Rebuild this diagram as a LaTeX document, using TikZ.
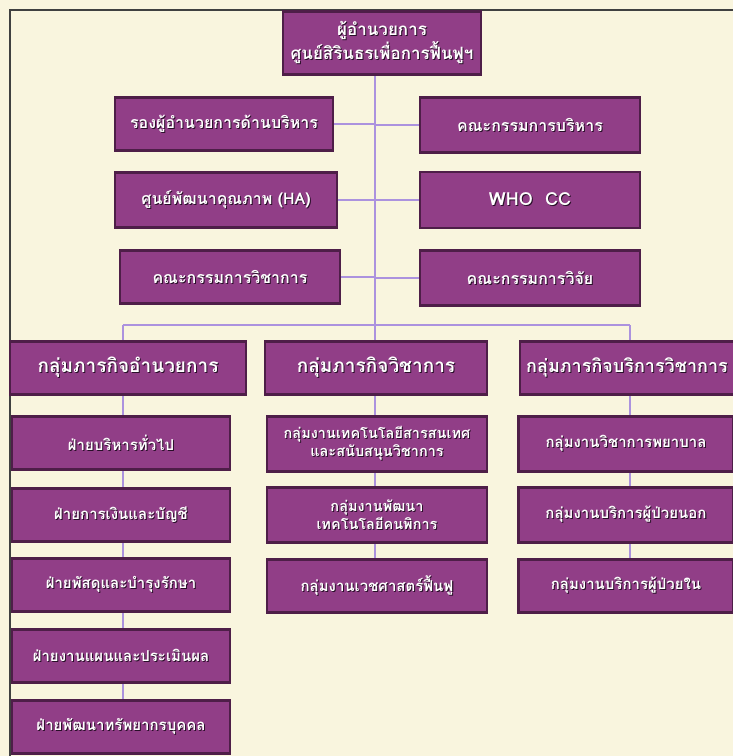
\documentclass[tikz,border=0pt]{standalone}
\usepackage{fontspec}
\newfontfamily\thai[Script=Thai]{Loma}
\setmainfont{Liberation Sans}
\usetikzlibrary{backgrounds}
\definecolor{bg}{RGB}{249,245,222}
\definecolor{boxfill}{RGB}{145,62,135}
\definecolor{boxedge}{RGB}{78,30,72}
\definecolor{wire}{RGB}{172,146,222}
\definecolor{shadowc}{RGB}{40,15,40}
\newcommand\sht[1]{\leavevmode\rlap{\kern1pt\raisebox{-1pt}{\textcolor{shadowc}{#1}}}#1}
\tikzset{
  orgbox/.style={draw=boxedge, line width=2.2pt, fill=boxfill, text=white,
    font=\thai\bfseries\fontsize{16}{19}\selectfont, align=center, inner sep=1pt},
  grpbox/.style={orgbox, font=\thai\bfseries\fontsize{19}{22}\selectfont},
  itembox/.style={orgbox, font=\thai\bfseries\fontsize{15}{18}\selectfont},
  wireline/.style={draw=wire, line width=1.6pt}
}
\begin{document}
\begin{tikzpicture}[x=1pt,y=-1pt]
\useasboundingbox (0,0) rectangle (733,756);

% top
\node[orgbox, minimum width=198pt, minimum height=63pt, font=\thai\bfseries\fontsize{17}{21}\selectfont] (top) at (382,43) {\sht{ผู้อำนวยการ}\\\sht{ศูนย์สิรินธรเพื่อการฟื้นฟูฯ}};

% advisory
\node[orgbox, minimum width=218pt, minimum height=53pt] (a1) at (224,124) {\sht{รองผู้อำนวยการด้านบริหาร}};
\node[orgbox, minimum width=220pt, minimum height=55pt] (b1) at (530,125) {\sht{คณะกรรมการบริหาร}};
\node[orgbox, minimum width=222pt, minimum height=55pt] (a2) at (226,200) {\sht{ศูนย์พัฒนาคุณภาพ (HA)}};
\node[orgbox, minimum width=220pt, minimum height=56pt, font=\thai\bfseries\fontsize{18}{21}\selectfont] (b2) at (530,200) {\sht{WHO\ \ CC}};
\node[orgbox, minimum width=220pt, minimum height=53pt] (a3) at (230,277) {\sht{คณะกรรมการวิชาการ}};
\node[orgbox, minimum width=220pt, minimum height=55pt] (b3) at (530,278) {\sht{คณะกรรมการวิจัย}};

% groups
\node[grpbox, minimum width=236pt, minimum height=53pt] (gL) at (128,368) {\sht{กลุ่มภารกิจอำนวยการ}};
\node[grpbox, minimum width=222pt, minimum height=53pt] (gM) at (376,368) {\sht{กลุ่มภารกิจวิชาการ}};
\node[grpbox, minimum width=214pt, minimum height=53pt, inner sep=0pt, font=\thai\bfseries\fontsize{18}{22}\selectfont] (gR) at (627,368) {\sht{กลุ่มภารกิจบริการวิชาการ}};

% left column
\node[itembox, minimum width=218pt, minimum height=53pt] (l1) at (121,443) {\sht{ฝ่ายบริหารทั่วไป}};
\node[itembox, minimum width=218pt, minimum height=53pt] (l2) at (121,515) {\sht{ฝ่ายการเงินและบัญชี}};
\node[itembox, minimum width=218pt, minimum height=53pt] (l3) at (121,585) {\sht{ฝ่ายพัสดุและบำรุงรักษา}};
\node[itembox, minimum width=218pt, minimum height=53pt] (l4) at (121,656) {\sht{ฝ่ายงานแผนและประเมินผล}};
\node[itembox, minimum width=218pt, minimum height=53pt] (l5) at (121,727) {\sht{ฝ่ายพัฒนาทรัพยากรบุคคล}};

% middle column
\node[itembox, minimum width=220pt, minimum height=55pt, font=\thai\bfseries\fontsize{14.5}{18}\selectfont] (m1) at (377,444) {\sht{กลุ่มงานเทคโนโลยีสารสนเทศ}\\\sht{และสนับสนุนวิชาการ}};
\node[itembox, minimum width=220pt, minimum height=55pt, font=\thai\bfseries\fontsize{14.5}{18}\selectfont] (m2) at (377,515) {\sht{กลุ่มงานพัฒนา}\\\sht{เทคโนโลยีคนพิการ}};
\node[itembox, minimum width=220pt, minimum height=53pt] (m3) at (377,586) {\sht{กลุ่มงานเวชศาสตร์ฟื้นฟู}};

% right column
\node[itembox, minimum width=215pt, minimum height=55pt] (r1) at (626,444) {\sht{กลุ่มงานวิชาการพยาบาล}};
\node[itembox, minimum width=215pt, minimum height=55pt] (r2) at (626,515) {\sht{กลุ่มงานบริการผู้ป่วยนอก}};
\node[itembox, minimum width=215pt, minimum height=53pt] (r3) at (626,586) {\sht{กลุ่มงานบริการผู้ป่วยใน}};

\coordinate (cM) at (375,325);
\coordinate (cL) at (123,325);
\coordinate (cR) at (630,325);

\begin{scope}[on background layer]
\fill[bg] (0,0) rectangle (733,756);
\draw[black!75, line width=1.5pt] (10,10) rectangle (740,760);
\draw[wireline] (top.south -| cM) -- (cM);
\draw[wireline] (a1.east) -- (a1.east -| cM);
\draw[wireline] (b1.west) -- (b1.west -| cM);
\draw[wireline] (a2.east) -- (a2.east -| cM);
\draw[wireline] (b2.west) -- (b2.west -| cM);
\draw[wireline] (a3.east) -- (a3.east -| cM);
\draw[wireline] (b3.west) -- (b3.west -| cM);
\draw[wireline] (cL) -- (cR);
\draw[wireline] (cL) -- (cL |- gL.north);
\draw[wireline] (cM) -- (cM |- gM.north);
\draw[wireline] (cR) -- (cR |- gR.north);
\draw[wireline] (gL.south -| cL) -- (l5.north -| cL);
\draw[wireline] (gM.south -| cM) -- (m3.north -| cM);
\draw[wireline] (gR.south -| cR) -- (r3.north -| cR);
\end{scope}
\end{tikzpicture}
\end{document}
